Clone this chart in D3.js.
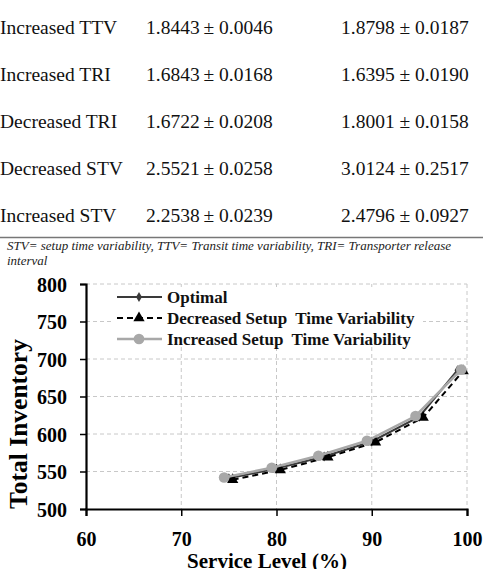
<!DOCTYPE html>
<html>
<head>
<meta charset="utf-8">
<script src="https://cdn.jsdelivr.net/npm/d3@7"></script>
<style>
  body { margin: 0; background: #fff; }
  svg { display: block; font-family: "Liberation Serif", "Times New Roman", serif; }
</style>
</head>
<body>
<svg id="fig" width="483" height="569"></svg>
<script>
// table rows above the chart
const rowLabels = ["Increased TTV", "Increased TRI", "Decreased TRI", "Decreased STV", "Increased STV"];
const colA = ["1.8443\u2009± 0.0046", "1.6843\u2009± 0.0168", "1.6722\u2009± 0.0208", "2.5521\u2009± 0.0258", "2.2538\u2009± 0.0239"];
const colB = ["1.8798 ± 0.0187", "1.6395 ± 0.0190", "1.8001 ± 0.0158", "3.0124 ± 0.2517", "2.4796 ± 0.0927"];
const noteLines = ["STV= setup time variability, TTV= Transit time variability, TRI= Transporter release", "interval"];

// chart series
const xTicks = [60, 70, 80, 90, 100];
const yTicks = [500, 550, 600, 650, 700, 750, 800];
const optX = [75, 80, 85, 90, 95, 99];
const optY = [541, 554, 570, 590, 623, 685];
const decX = [75.4, 80.4, 85.4, 90.4, 95.4, 99.6];
const decY = [539, 552, 569, 589, 622, 684];
const incX = [74.5, 79.5, 84.4, 89.5, 94.6, 99.4];
const incY = [542, 555, 571, 591, 624, 686];

const svg = d3.select("#fig");

// ---- table ----
const rowY = d3.scalePoint().domain(d3.range(rowLabels.length)).range([34, 222]);
const table = svg.append("g").style("font-size", "19.5px").attr("fill", "#111");
table.selectAll(".lab").data(rowLabels).enter().append("text")
    .attr("x", 0).attr("y", (d, i) => rowY(i)).text(d => d);
table.selectAll(".ca").data(colA).enter().append("text")
    .attr("x", 146).attr("y", (d, i) => rowY(i)).text(d => d);
table.selectAll(".cb").data(colB).enter().append("text")
    .attr("x", 341).attr("y", (d, i) => rowY(i)).text(d => d);

svg.append("line").attr("x1", 0).attr("x2", 483).attr("y1", 237.5).attr("y2", 237.5)
    .attr("stroke", "#777").attr("stroke-width", 1.5);

svg.append("g").selectAll("text").data(noteLines).enter().append("text")
    .attr("x", 7).attr("y", (d, i) => 250 + i * 15)
    .style("font-size", "13px").style("font-style", "italic").attr("fill", "#222")
    .text(d => d);

// ---- chart ----
const x = d3.scaleLinear().domain([60, 100]).range([86, 467]);
const y = d3.scaleLinear().domain([500, 800]).range([509, 284]);

const grid = svg.append("g").attr("stroke", "#c8c8c8").attr("stroke-dasharray", "4,3").attr("stroke-width", 1);
grid.selectAll(".gx").data(xTicks.slice(1)).enter().append("line")
    .attr("x1", d => x(d)).attr("x2", d => x(d)).attr("y1", y(800)).attr("y2", y(500));
grid.selectAll(".gy").data(yTicks.slice(1)).enter().append("line")
    .attr("x1", x(60)).attr("x2", x(100)).attr("y1", d => y(d)).attr("y2", d => y(d));

// legend box (white, covers the grid)
const legend = svg.append("g");
legend.append("rect").attr("x", 113).attr("y", 287).attr("width", 310).attr("height", 59).attr("fill", "#fff");

const series = [
  { name: "Optimal", xs: optX, ys: optY, color: "#3a3a3a", dash: null, width: 2, marker: "diamond" },
  { name: "Decreased Setup  Time Variability", xs: decX, ys: decY, color: "#000", dash: "6,4", width: 2, marker: "triangle" },
  { name: "Increased Setup  Time Variability", xs: incX, ys: incY, color: "#a8a8a8", dash: null, width: 2.5, marker: "circle" }
];

const symbolOf = {
  diamond: d3.symbol().type(d3.symbolDiamond).size(30),
  triangle: d3.symbol().type(d3.symbolTriangle).size(55),
  circle: d3.symbol().type(d3.symbolCircle).size(90)
};

const line = d3.line().x(d => x(d[0])).y(d => y(d[1]));

series.forEach(s => {
  const pts = s.xs.map((v, i) => [v, s.ys[i]]);
  svg.append("path").datum(pts)
      .attr("fill", "none").attr("stroke", s.color).attr("stroke-width", s.width)
      .attr("stroke-dasharray", s.dash).attr("d", line);
  svg.append("g").selectAll("path").data(pts).enter().append("path")
      .attr("transform", d => `translate(${x(d[0])},${y(d[1])})`)
      .attr("d", symbolOf[s.marker]).attr("fill", s.color);
});

// axes
const xAxis = svg.append("g").attr("transform", `translate(0,${y(500)})`)
    .call(d3.axisBottom(x).tickValues(xTicks).tickSize(7).tickFormat(d3.format("d")));
const yAxis = svg.append("g").attr("transform", `translate(${x(60)},0)`)
    .call(d3.axisLeft(y).tickValues(yTicks).tickSize(6).tickFormat(d3.format("d")));
[xAxis, yAxis].forEach(a => {
  a.attr("font-family", null).attr("font-size", null);
  a.select(".domain").attr("stroke", "#000").attr("stroke-width", 2.2);
  a.selectAll(".tick line").attr("stroke", "#000").attr("stroke-width", 1.5);
  a.selectAll(".tick text").attr("fill", "#000")
      .style("font-weight", "bold").style("font-size", "20px");
});
xAxis.selectAll(".tick text").attr("y", 30).attr("dy", "0.35em");
yAxis.selectAll(".tick text").attr("x", -19).attr("dy", "0.35em");

// legend entries
const legRow = d3.scalePoint().domain(d3.range(series.length)).range([297, 339]);
series.forEach((s, i) => {
  const ly = legRow(i);
  legend.append("line").attr("x1", 117).attr("x2", 162).attr("y1", ly).attr("y2", ly)
      .attr("stroke", s.color).attr("stroke-width", s.width).attr("stroke-dasharray", s.dash);
  legend.append("path").attr("transform", `translate(139,${ly})`).attr("d", symbolOf[s.marker]).attr("fill", s.color);
  legend.append("text").attr("x", 167).attr("y", ly).attr("dy", "0.35em")
      .style("font-weight", "bold").style("font-size", "17px").attr("fill", "#111")
      .style("white-space", "pre").text(s.name);
});

// axis titles
svg.append("text").attr("transform", "translate(27,424) rotate(-90)").attr("text-anchor", "middle")
    .style("font-weight", "bold").style("font-size", "25.5px").text("Total Inventory");
svg.append("text").attr("x", 267).attr("y", 568).attr("text-anchor", "middle")
    .style("font-weight", "bold").style("font-size", "21px").text("Service Level (%)");
</script>
</body>
</html>
